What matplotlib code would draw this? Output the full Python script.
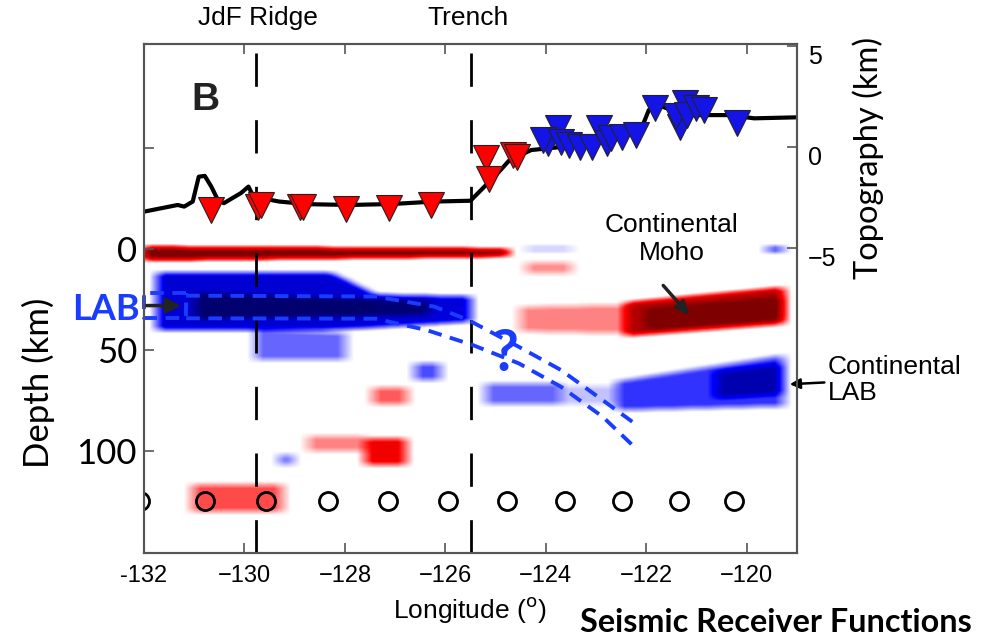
import numpy as np
import matplotlib
matplotlib.use("Agg")
import matplotlib.pyplot as plt
from matplotlib.transforms import ScaledTranslation

# topography profile (longitude, km)
topo_lon = [-132.0, -131.33, -131.2, -131.03, -130.91, -130.79, -130.66, -130.53, -130.41,
            -130.07, -129.92, -129.82, -129.31, -128.74, -127.9, -127.05, -126.22, -125.5,
            -125.29, -124.96, -124.72, -124.29, -123.7, -122.87, -122.11, -121.95, -121.69,
            -121.19, -120.36, -119.85, -119.0]
topo_km = [-3.2, -2.87, -2.95, -2.7, -1.47, -1.43, -1.96, -2.62, -2.78,
           -2.28, -1.96, -2.46, -2.7, -2.83, -2.87, -2.82, -2.7, -2.66,
           -2.13, -1.3, -0.64, -0.15, 0.0, 0.35, 0.84, 1.83, 2.0,
           1.58, 1.58, 1.42, 1.47]

# ocean bottom stations (red) and land stations (blue)
obs_lon = [-130.66, -129.74, -129.68, -128.89, -128.83, -127.98, -127.12, -126.28, -125.19, -125.14, -124.65, -124.58]
obs_elev = [-3.13, -2.95, -2.89, -2.95, -2.98, -3.07, -3.04, -2.89, -0.56, -1.57, -0.41, -0.5]
land_lon = [-123.75, -123.96, -124.05, -123.7, -123.54, -123.33, -123.08, -122.95, -122.78, -122.7,
            -122.49, -122.2, -121.82, -121.23, -121.32, -121.4, -121.19, -121.02, -120.86, -120.19]
land_elev = [0.92, 0.18, 0.35, 0.26, 0.1, 0.02, 0.02, 0.92, 0.18, 0.45,
             0.51, 0.59, 1.91, 2.16, 1.0, 1.55, 1.58, 1.91, 1.83, 1.17]

# piercing bins at 125 km depth
bin_lon = [-132.08, -130.78, -129.57, -128.34, -127.14, -125.95, -124.78, -123.62, -122.49, -121.34, -120.25]
bin_dep = [125] * len(bin_lon)

# receiver function features: lon range, top/bottom depth at each end, amplitude
rf_lon0 = [-132.0, -124.4, -124.4, -119.6, -131.75, -128.3, -127.4, -131.0, -129.8, -126.6, -129.3,
           -127.45, -128.74, -127.6, -131.05, -124.5, -122.4, -122.0, -125.2, -123.7, -122.6, -120.6]
rf_lon1 = [-124.75, -123.5, -123.5, -119.25, -128.3, -127.4, -125.5, -126.3, -128.0, -126.1, -129.05,
           -126.75, -127.6, -126.8, -129.25, -122.4, -119.25, -119.3, -123.7, -122.6, -119.25, -119.3]
rf_top0 = [-0.5, -0.5, 7, -0.5, 12, 12, 23, 22, 40, 57, 102,
           69, 93, 94, 117, 29, 27, 30, 67, 68, 66, 61]
rf_top1 = [0.5, -0.5, 7, -0.5, 12, 23, 24, 26, 42, 57, 102,
           69, 93, 94, 117, 28, 19.5, 24, 67, 68, 53, 57]
rf_bot0 = [5.5, 1.0, 12, 1.5, 40, 40, 39, 35, 55, 65, 107,
           77, 100, 107, 130, 41, 43, 40, 77, 77, 80, 74]
rf_bot1 = [3.5, 1.0, 12, 1.5, 40, 39, 36, 33, 55, 65, 107,
           77, 100, 107, 130, 42, 37, 35, 77, 77, 78, 72]
rf_amp = [1.05, -0.18, 0.22, -0.55, -0.62, -0.62, -0.6, -0.28, -0.3, -0.35, -0.3,
          0.32, 0.24, 0.55, 0.35, 0.24, 0.8, 0.3, -0.3, -0.12, -0.4, -0.32]

# interpretation: dipping slab LAB (upper / lower dashed lines)
lab_up_lon = [-131.16, -127.39, -126.22, -125.55, -124.54, -123.7, -122.87, -122.28]
lab_up_dep = [23.1, 23.5, 28.5, 35.1, 48.4, 59.9, 74.8, 85.5]
lab_lo_lon = [-131.16, -127.39, -126.38, -125.46, -124.54, -123.7, -122.87, -122.28]
lab_lo_dep = [34.3, 34.5, 40.1, 47.5, 56.6, 68.2, 83.0, 97.0]
box_lon = [-131.16, -132.0, -132.0, -131.16, -131.16]
box_dep = [22.0, 22.0, 34.3, 34.3, 22.0]

ridge_lon = -129.78
trench_lon = -125.49

# build the receiver function image
lon_g = np.arange(-132.0, -119.0, 0.03)
dep_g = np.arange(-4.0, 150.0, 0.4)
L, D = np.meshgrid(lon_g, dep_g)
img = np.zeros_like(L)
for i in range(len(rf_amp)):
    t = np.clip((L - rf_lon0[i]) / (rf_lon1[i] - rf_lon0[i]), 0, 1)
    top = rf_top0[i] + t * (rf_top1[i] - rf_top0[i])
    bot = rf_bot0[i] + t * (rf_bot1[i] - rf_bot0[i])
    inside = (L >= rf_lon0[i]) & (L <= rf_lon1[i]) & (D >= top) & (D <= bot)
    img += rf_amp[i] * inside

# soften edges (separable box blur)
kx = np.ones(11) / 11
ky = np.ones(9) / 9
img = np.apply_along_axis(lambda r: np.convolve(r, kx, mode="same"), 1, img)
img = np.apply_along_axis(lambda c: np.convolve(c, ky, mode="same"), 0, img)
img = np.clip(img, -1, 1)

fig = plt.figure(figsize=(9.88, 6.39), dpi=100)
ax = fig.add_axes([144 / 988, 1 - 553 / 639, (797 - 144) / 988, (553 - 44) / 639])

cmap = plt.get_cmap("seismic").resampled(255)
ax.imshow(img, cmap=cmap, vmin=-1, vmax=1, aspect="auto", origin="upper",
          extent=(lon_g[0], lon_g[-1], dep_g[-1], dep_g[0]), interpolation="bilinear", zorder=1)
ax.set_xlim(-132, -119)
ax.set_ylim(150.5, -101.5)

ax.axvline(ridge_lon, color="k", lw=2, dashes=(12, 12), zorder=3)
ax.axvline(trench_lon, color="k", lw=2, dashes=(12, 12), zorder=3)

ax.plot(bin_lon, bin_dep, "o", ms=13, mfc="none", mec="k", mew=2, zorder=4)

blue = "#1a3cff"
ax.plot(lab_up_lon, lab_up_dep, color=blue, lw=2.8, dashes=(3.5, 2.2), zorder=5)
ax.plot(lab_lo_lon, lab_lo_dep, color=blue, lw=2.8, dashes=(3.5, 2.2), zorder=5)
ax.plot(box_lon, box_dep, color=blue, lw=2.8, dashes=(3.5, 2.2), zorder=5, clip_on=False)
ax.text(-124.8, 52, "?", color=blue, fontsize=42, fontweight="bold", ha="center", va="center",
        family="Lato", zorder=6)

ax.annotate("", xy=(-131.2, 28), xytext=(-132.0, 28),
            arrowprops=dict(arrowstyle="-|>,head_width=0.45,head_length=0.9", color="#222222", lw=2.5),
            zorder=6)

ax.text(-121.5, -5, "Continental\nMoho", fontsize=19, ha="center", va="center", linespacing=1.2,
        family="Liberation Sans", bbox=dict(facecolor="white", edgecolor="none", pad=4), zorder=6)
ax.annotate("", xy=(-121.1, 34), xytext=(-121.7, 17),
            arrowprops=dict(arrowstyle="-|>,head_width=0.35,head_length=0.8", color="#222222", lw=2.5),
            zorder=7)

fig.text(828 / 988, 1 - 380 / 639, "Continental\nLAB", fontsize=19, ha="left", va="center",
         linespacing=1.15, family="Liberation Sans")
ax.annotate("", xy=(-119.2, 67), xytext=(-118.4, 66),
            arrowprops=dict(arrowstyle="-|>,head_width=0.3,head_length=0.6", color="k", lw=1.8),
            annotation_clip=False, zorder=7)

ax.set_xticks([-132, -130, -128, -126, -124, -122, -120])
ax.set_xticklabels(["-132", "\u2212130", "\u2212128", "\u2212126", "\u2212124", "\u2212122", "\u2212120"],
                   family="Liberation Sans", fontsize=17)
ax.set_yticks([-50, 0, 50, 100])
ax.set_yticklabels(["", "0", "50", "100"], family="Lato", fontsize=25)
ax.tick_params(direction="in", top=True, length=7, width=1.2, colors="#555555", pad=9)
ax.tick_params(axis="y", pad=5)
for lab in ax.get_xticklabels() + ax.get_yticklabels():
    lab.set_color("k")

ax2 = ax.twinx()
ax2.set_xlim(-132, -119)
ax2.set_ylim(-20.1, 5.1)
ax2.plot(topo_lon, topo_km, color="k", lw=3, zorder=2)
ax2.plot(obs_lon, obs_elev, "v", ms=19, mfc="#ff0000", mec="#222222", mew=0.8, zorder=3)
ax2.plot(land_lon, land_elev, "v", ms=19, mfc="#1414e6", mec="#222222", mew=0.8, zorder=3)
ax2.set_yticks([-5, 0, 5])
ax2.set_yticklabels(["\u22125", "0", "5"], family="Liberation Sans", fontsize=18)
ax2.tick_params(direction="in", length=7, width=1.2, colors="#555555", pad=8)
shift = ScaledTranslation(0, -6 / 72, fig.dpi_scale_trans)
for lab in ax2.get_yticklabels():
    lab.set_color("k")
    lab.set_transform(lab.get_transform() + shift)

for a in (ax, ax2):
    for s in a.spines.values():
        s.set_color("#555555")
        s.set_linewidth(1.5)

fig.text(205 / 988, 1 - 100 / 639, "B", fontsize=28, fontweight="bold", ha="center", va="center",
         family="Liberation Sans", color="#222222")
fig.text(258 / 988, 1 - 18 / 639, "JdF Ridge", fontsize=19, ha="center", va="center",
         family="Liberation Sans")
fig.text(468 / 988, 1 - 18 / 639, "Trench", fontsize=19, ha="center", va="center",
         family="Liberation Sans")
fig.text(38 / 988, 1 - 383 / 639, "Depth (km)", fontsize=25, rotation=90, ha="center", va="center",
         family="Lato")
fig.text(868 / 988, 1 - 158 / 639, "Topography (km)", fontsize=23.5, rotation=90, ha="center",
         va="center", family="Lato")
fig.text(140 / 988, 1 - 310 / 639, "LAB", fontsize=26, fontweight="bold", color=blue, ha="right",
         va="center", family="Lato")
fig.text(470 / 988, 1 - 610 / 639, "Longitude ($^{\\rm o}$)", fontsize=19, ha="center", va="center",
         family="Liberation Sans")
fig.text(580 / 988, 1 - 622 / 639, "Seismic Receiver Functions", fontsize=23.3, fontweight="bold",
         ha="left", va="center", family="Lato")

fig.savefig("out.png", dpi=100)
